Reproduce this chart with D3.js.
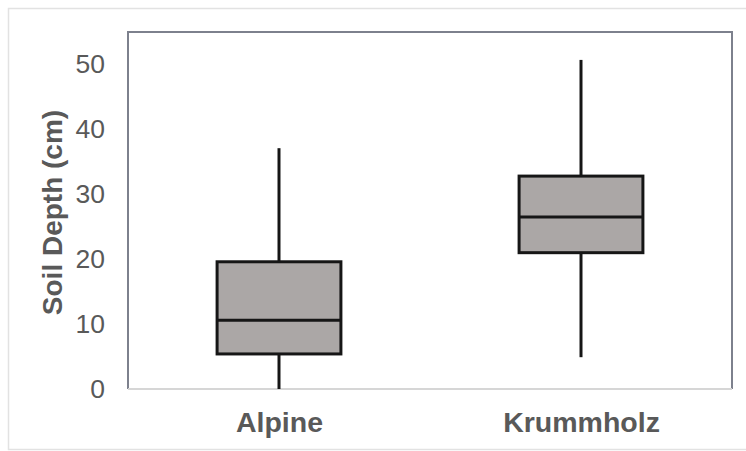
<!DOCTYPE html>
<html>
<head>
<meta charset="utf-8">
<script src="https://cdn.jsdelivr.net/npm/d3@7"></script>
<style>
  html, body { margin: 0; padding: 0; background: #ffffff; }
  svg { display: block; font-family: "Liberation Sans", Arial, sans-serif; }
</style>
</head>
<body>
<svg id="chart" width="746" height="451"></svg>
<script>
// ---- Data ----
const categories = ["Alpine", "Krummholz"];
const whiskerLow  = [0.0, 4.9];
const quartile1   = [5.4, 21.0];
const medians     = [10.6, 26.5];
const quartile3   = [19.6, 32.8];
const whiskerHigh = [37.1, 50.7];
const yTicks = [0, 10, 20, 30, 40, 50];
const yTitle = "Soil Depth (cm)";

const rows = categories.map((c, i) => ({
  cat: c, lo: whiskerLow[i], q1: quartile1[i], med: medians[i], q3: quartile3[i], hi: whiskerHigh[i]
}));

// ---- Layout ----
const svg = d3.select("#chart");
const W = 746, H = 451;
const plot = { left: 128, right: 732, top: 32, bottom: 389 };

// outer light border
svg.append("rect")
  .attr("x", 8.5).attr("y", 8.5).attr("width", W + 10).attr("height", H - 10)
  .attr("fill", "#ffffff").attr("stroke", "#e2e2e2").attr("stroke-width", 1.5);

const y = d3.scaleLinear().domain([0, 55]).range([plot.bottom, plot.top]);
const x = d3.scalePoint().domain(categories).range([plot.left, plot.right]).padding(0.5);
const boxW = x.step() * 0.41;

// frame (left, top, right) darker
svg.append("path")
  .attr("d", `M${plot.left},${plot.bottom} V${plot.top} H${plot.right} V${plot.bottom}`)
  .attr("fill", "none").attr("stroke", "#7d818d").attr("stroke-width", 2);

// x axis baseline (light)
svg.append("line")
  .attr("x1", plot.left).attr("x2", plot.right)
  .attr("y1", plot.bottom).attr("y2", plot.bottom)
  .attr("stroke", "#d6d6d6").attr("stroke-width", 2);

// y axis tick labels
const yAxis = svg.append("g")
  .attr("transform", `translate(${plot.left},0)`)
  .call(d3.axisLeft(y).tickValues(yTicks).tickSize(0).tickPadding(23).tickFormat(d3.format("d")));
yAxis.select(".domain").remove();
yAxis.selectAll("text")
  .attr("font-size", 26.5).attr("fill", "#595959")
  .attr("font-family", "Liberation Sans, Arial, sans-serif");

// x axis labels
const xAxis = svg.append("g")
  .attr("transform", `translate(0,${plot.bottom})`)
  .call(d3.axisBottom(x).tickSize(0).tickPadding(23));
xAxis.select(".domain").remove();
xAxis.selectAll("text")
  .attr("font-size", 28.5).attr("font-weight", "bold").attr("fill", "#595959")
  .attr("font-family", "Liberation Sans, Arial, sans-serif");

// y title
svg.append("text")
  .attr("transform", `translate(52,${(plot.top + plot.bottom) / 2 + 2}) rotate(-90)`)
  .attr("text-anchor", "middle").attr("dominant-baseline", "central")
  .attr("font-size", 28).attr("font-weight", "bold").attr("fill", "#595959")
  .text(yTitle);

// boxes
const g = svg.append("g");
const box = g.selectAll("g.box").data(rows).join("g").attr("class", "box");

box.append("line")
  .attr("x1", d => x(d.cat)).attr("x2", d => x(d.cat))
  .attr("y1", d => y(d.hi)).attr("y2", d => y(d.q3))
  .attr("stroke", "#161616").attr("stroke-width", 3);
box.append("line")
  .attr("x1", d => x(d.cat)).attr("x2", d => x(d.cat))
  .attr("y1", d => y(d.q1)).attr("y2", d => y(d.lo))
  .attr("stroke", "#161616").attr("stroke-width", 3);
box.append("rect")
  .attr("x", d => x(d.cat) - boxW / 2).attr("width", boxW)
  .attr("y", d => y(d.q3)).attr("height", d => y(d.q1) - y(d.q3))
  .attr("fill", "#aba7a6").attr("stroke", "#161616").attr("stroke-width", 3);
box.append("line")
  .attr("x1", d => x(d.cat) - boxW / 2).attr("x2", d => x(d.cat) + boxW / 2)
  .attr("y1", d => y(d.med)).attr("y2", d => y(d.med))
  .attr("stroke", "#161616").attr("stroke-width", 3);
</script>
</body>
</html>
